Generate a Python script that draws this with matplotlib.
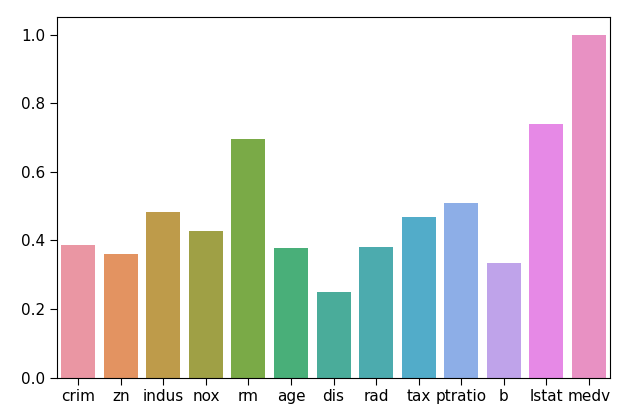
import numpy as np
import pandas as pd
import matplotlib
matplotlib.use("Agg")
import matplotlib.pyplot as plt
import seaborn as sns

features = ["crim", "zn", "indus", "nox", "rm", "age", "dis", "rad",
            "tax", "ptratio", "b", "lstat", "medv"]
corr = [0.388, 0.360, 0.484, 0.427, 0.695, 0.377, 0.250, 0.382,
        0.469, 0.508, 0.333, 0.738, 1.0]

df = pd.DataFrame({"feature": features, "corr": corr})

fig = plt.figure(figsize=(6.33, 4.15), dpi=100)
ax = fig.add_axes([0.09, 0.09, 0.874, 0.868])
pal = sns.husl_palette(len(features), l=.7)
sns.barplot(data=df, x="feature", y="corr", hue="feature",
            palette=pal, saturation=0.75, legend=False, ax=ax)
ax.set_xlabel("")
ax.set_ylabel("")
ax.set_ylim(0, 1.05)
ax.set_yticks(np.arange(0, 1.01, 0.2))
ax.tick_params(labelsize=11, length=5)
fig.savefig("out.png", dpi=100)
